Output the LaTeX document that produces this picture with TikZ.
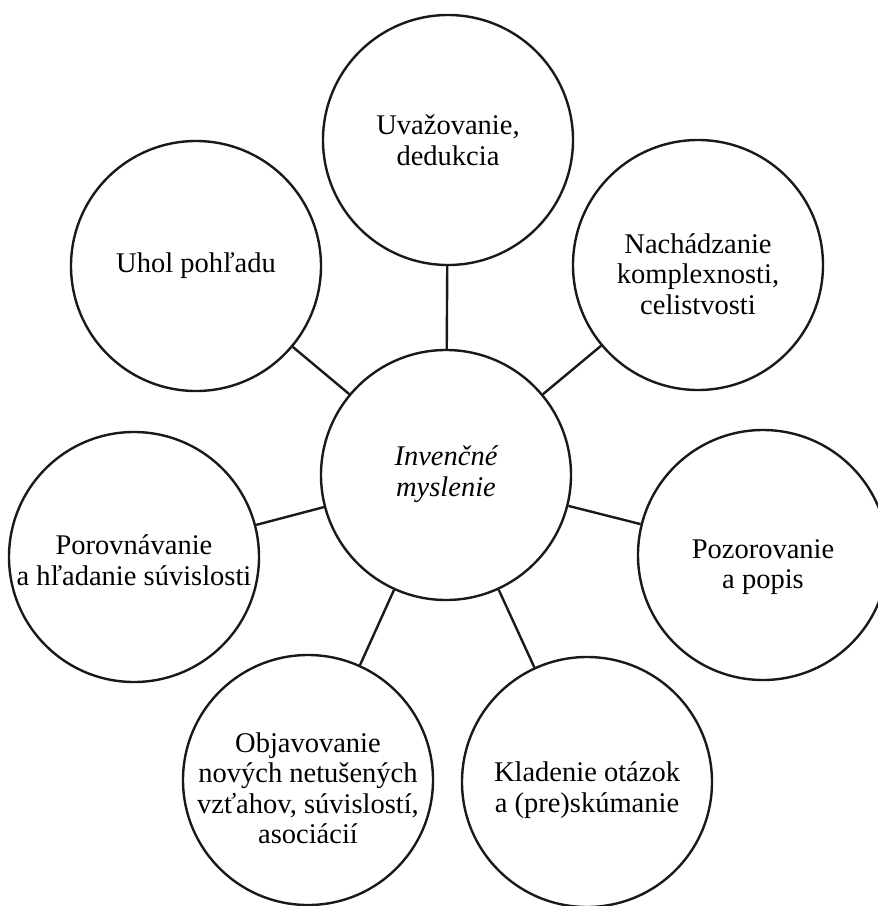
\documentclass[tikz,border=0pt]{standalone}
\usepackage{fontspec}
\setmainfont{Liberation Serif}
\begin{document}
\begin{tikzpicture}[x=1pt,y=-1pt,
  bub/.style={circle,draw=black!90,line width=2.4pt,minimum size=250pt,inner sep=0pt},
  txt/.style={align=center,inner sep=0pt,font=\fontsize{28.5}{30.5}\selectfont},
  link/.style={draw=black!90,line width=2.4pt}]
\useasboundingbox (0,0) rectangle (878,906);
\node[bub] (c)  at (446,475) {};
\node[bub] (t)  at (448,140) {};
\node[bub] (ul) at (196,266) {};
\node[bub] (ur) at (698,265) {};
\node[bub] (l)  at (134,557) {};
\node[bub] (r)  at (763,555) {};
\node[bub] (bl) at (308,780) {};
\node[bub] (br) at (587,782) {};
\node[txt,font=\fontsize{28.5}{30.5}\selectfont\itshape] (ct) at ([yshift=1pt]c.center) {Invenčné\\myslenie};
\node[txt] (tt)  at (t.center) {Uvažovanie,\\dedukcia};
\node[txt] (ult) at (ul.center) {Uhol pohľadu};
\node[txt] (urt) at ([yshift=-9pt]ur.center) {Nachádzanie\\komplexnosti,\\celistvosti};
\node[txt] (lt)  at ([yshift=-3pt]l.center) {Porovnávanie\\a hľadanie súvislosti};
\node[txt] (rt)  at ([yshift=-12pt]r.center) {Pozorovanie\\a popis};
\node[txt] (blt) at ([yshift=-8pt]bl.center) {Objavovanie\\nových netušených\\vzťahov, súvislostí,\\asociácií};
\node[txt] (brt) at ([yshift=-8pt]br.center) {Kladenie otázok\\a (pre)skúmanie};
\foreach \n in {t,ul,ur,l,r,bl,br} \draw[link] (c) -- (\n);
\end{tikzpicture}
\end{document}
